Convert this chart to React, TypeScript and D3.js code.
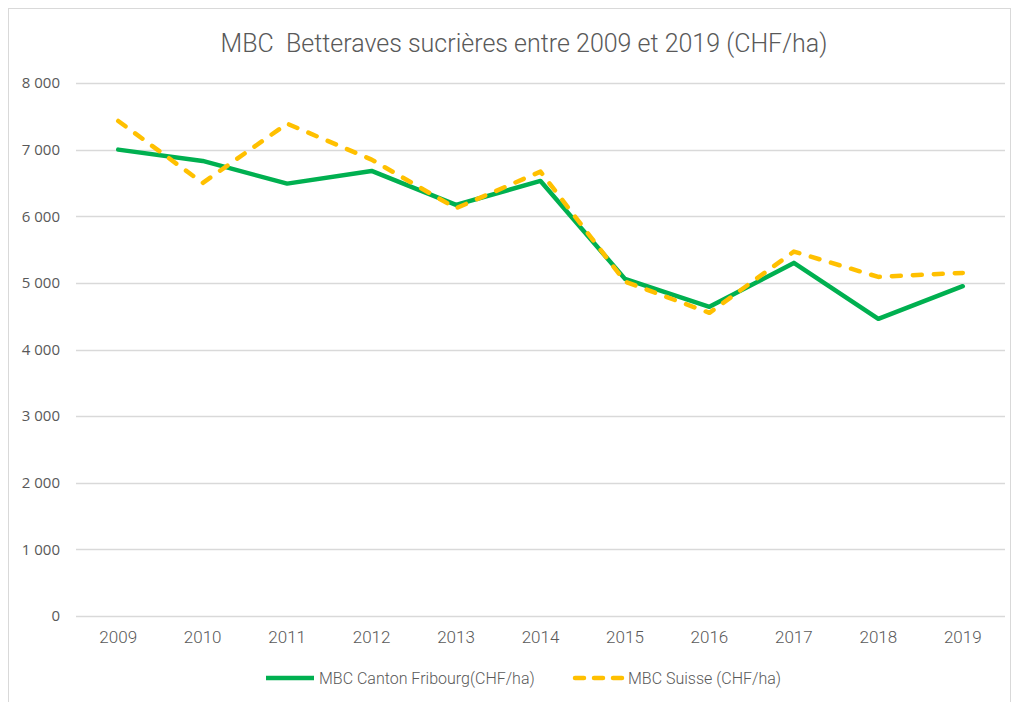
import { useRef, useEffect } from "react";
import * as d3 from "d3";

const years = ["2009", "2010", "2011", "2012", "2013", "2014", "2015", "2016", "2017", "2018", "2019"];
const fribourg = [7000, 6830, 6490, 6680, 6170, 6530, 5060, 4640, 5300, 4460, 4950];
const suisse = [7430, 6500, 7390, 6850, 6120, 6670, 5020, 4550, 5470, 5090, 5150];
const yTicks = [0, 1000, 2000, 3000, 4000, 5000, 6000, 7000, 8000];

const seriesNames = ["MBC Canton Fribourg(CHF/ha)", "MBC Suisse (CHF/ha)"];
const title = "MBC  Betteraves sucrières entre 2009 et 2019 (CHF/ha)";

export default function App() {
  const svgRef = useRef<SVGSVGElement>(null);
  const width = 1015;
  const height = 702;

  useEffect(() => {
    if (!svgRef.current) return;
    const svg = d3.select(svgRef.current);
    svg.selectAll("*").remove();

    const margin = { top: 83, right: 10, bottom: 86, left: 76 };
    const chartWidth = width - margin.left - margin.right;
    const chartHeight = height - margin.top - margin.bottom;

    const font = "Roboto, 'Open Sans', sans-serif";
    const textColor = "#595959";

    // chart area border
    svg.append("rect")
      .attr("x", 8.5).attr("y", 8.5)
      .attr("width", 1002).attr("height", 700)
      .attr("fill", "white")
      .attr("stroke", "#d9d9d9");

    svg.append("text")
      .attr("x", 524).attr("y", 52)
      .attr("text-anchor", "middle")
      .attr("font-family", font)
      .attr("font-size", 25)
      .attr("font-weight", 300)
      .attr("fill", textColor)
      .style("white-space", "pre")
      .text(title);

    const x = d3.scaleBand<string>().domain(years).range([0, chartWidth]);
    const y = d3.scaleLinear().domain([0, 8000]).range([chartHeight, 0]);
    const fmt = (v: number) => d3.format(",")(v).replace(",", " ");

    const chart = svg.append("g").attr("transform", `translate(${margin.left},${margin.top})`);

    // gridlines
    chart.append("g")
      .selectAll("line")
      .data(yTicks)
      .enter()
      .append("line")
      .attr("x1", 0).attr("x2", chartWidth)
      .attr("y1", (d) => Math.round(y(d)) + 0.5)
      .attr("y2", (d) => Math.round(y(d)) + 0.5)
      .attr("stroke", "#d9d9d9")
      .attr("stroke-width", 1.5);

    // Y labels
    chart.append("g")
      .selectAll("text")
      .data(yTicks)
      .enter()
      .append("text")
      .attr("x", -16)
      .attr("y", (d) => y(d))
      .attr("dy", "0.35em")
      .attr("text-anchor", "end")
      .attr("font-family", "'Open Sans', sans-serif")
      .attr("font-size", 15)
      .attr("fill", textColor)
      .text((d) => fmt(d));

    // X labels
    chart.append("g")
      .selectAll("text")
      .data(years)
      .enter()
      .append("text")
      .attr("x", (d) => (x(d) as number) + x.bandwidth() / 2)
      .attr("y", chartHeight + 27)
      .attr("text-anchor", "middle")
      .attr("font-family", font)
      .attr("font-size", 17)
      .attr("font-weight", 300)
      .attr("fill", textColor)
      .text((d) => d);

    const line = d3.line<number>()
      .x((_, i) => (x(years[i]) as number) + x.bandwidth() / 2)
      .y((d) => y(d));

    chart.append("path")
      .datum(fribourg)
      .attr("d", line)
      .attr("fill", "none")
      .attr("stroke", "#00b050")
      .attr("stroke-width", 4.5)
      .attr("stroke-linejoin", "round")
      .attr("stroke-linecap", "round");

    chart.append("path")
      .datum(suisse)
      .attr("d", line)
      .attr("fill", "none")
      .attr("stroke", "#ffc000")
      .attr("stroke-width", 4.5)
      .attr("stroke-dasharray", "9 12")
      .attr("stroke-linejoin", "round")
      .attr("stroke-linecap", "round");

    // legend
    const legend = svg.append("g").attr("transform", "translate(0,678)");
    const items = [
      { name: seriesNames[0], color: "#00b050", dash: null, x: 266 },
      { name: seriesNames[1], color: "#ffc000", dash: "9 10", x: 575 },
    ];
    items.forEach((it) => {
      legend.append("line")
        .attr("x1", it.x).attr("x2", it.x + 48)
        .attr("y1", 0).attr("y2", 0)
        .attr("stroke", it.color)
        .attr("stroke-width", 4.5)
        .attr("stroke-dasharray", it.dash)
        .attr("stroke-linecap", it.dash ? "round" : "butt");
      legend.append("text")
        .attr("x", it.x + 53)
        .attr("y", 0)
        .attr("dy", "0.35em")
        .attr("font-family", font)
        .attr("font-size", 16)
        .attr("font-weight", 300)
        .attr("fill", textColor)
        .text(it.name);
    });
  }, []);

  return (
    <svg
      ref={svgRef}
      width={width}
      height={height}
      style={{ position: "absolute", left: 0, top: 0, display: "block" }}
    />
  );
}
